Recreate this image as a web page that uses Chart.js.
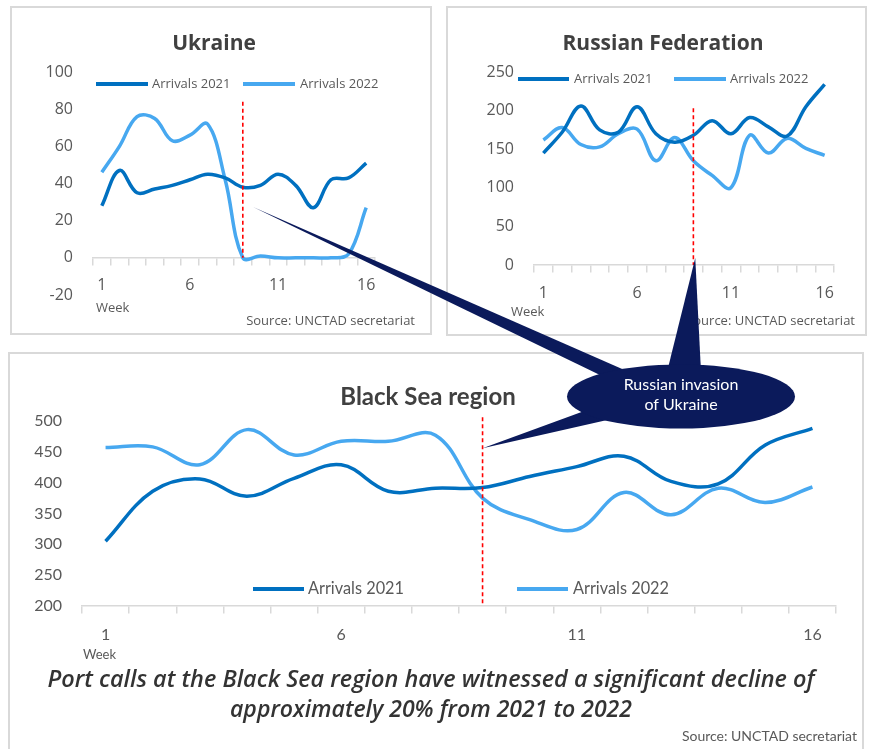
<!DOCTYPE html>
<html><head><meta charset="utf-8">
<script src="https://cdn.jsdelivr.net/npm/chart.js@4.4.0/dist/chart.umd.min.js"></script>
<style>
html,body{margin:0;padding:0;background:#fff;}
#wrap{position:relative;width:870px;height:749px;overflow:hidden;background:#fff;}
.box{position:absolute;box-sizing:border-box;border:2px solid #d9d9d9;}
canvas{position:absolute;}
</style></head><body>
<div id="wrap">
<div class="box" style="left:10px;top:6px;width:422px;height:329px"></div>
<div class="box" style="left:446px;top:6px;width:421px;height:330px"></div>
<div class="box" style="left:8px;top:352px;width:856px;height:420px"></div>
<canvas id="ua" width="422" height="329" style="left:10px;top:6px"></canvas>
<canvas id="rf" width="421" height="330" style="left:446px;top:6px"></canvas>
<canvas id="bs" width="855" height="397" style="left:9px;top:352px"></canvas>
<canvas id="ov" width="870" height="749" style="left:0;top:0;pointer-events:none"></canvas>
</div>
<script>
// ---- data ----
const weeks = ['1','2','3','4','5','6','7','8','9','10','11','12','13','14','15','16'];
const seriesNames = ['Arrivals 2021', 'Arrivals 2022'];
const uaArrivals2021 = [28, 47, 35, 37, 39, 42, 45, 43, 38, 39, 45, 39, 27, 42, 43, 51];
const uaArrivals2022 = [46, 60, 76, 75, 63, 66, 72, 42, 0, 1, 0, 0, 0, 0, 2, 27];
const rfArrivals2021 = [145, 172, 206, 175, 172, 205, 170, 159, 168, 187, 170, 191, 179, 167, 205, 234];
const rfArrivals2022 = [162, 178, 156, 153, 170, 176, 135, 165, 135, 116, 100, 168, 145, 164, 151, 142];
const bsArrivals2021 = [305, 386, 406, 378, 407, 429, 386, 391, 392, 410, 426, 443, 402, 398, 461, 488];
const bsArrivals2022 = [457, 458, 429, 486, 445, 467, 467, 477, 375, 340, 324, 384, 348, 391, 368, 393];
const uaYTicks = [-20, 0, 20, 40, 60, 80, 100];
const rfYTicks = [0, 50, 100, 150, 200, 250];
const bsYTicks = [200, 250, 300, 350, 400, 450, 500];
const invasionWeekIndex = 8; // week 9

const C21 = '#0070c0', C22 = '#47a8f0', GRAY = '#595959';
const FONT = '"Open Sans", "DejaVu Sans", sans-serif';
const FONT2 = 'Lato, "Open Sans", sans-serif';

const deco = {
  id: 'deco',
  afterDraw(chart, args, o) {
    const ctx = chart.ctx, xs = chart.scales.x, ys = chart.scales.y;
    ctx.save();
    const vx = xs.getPixelForValue(o.vIndex);
    ctx.strokeStyle = '#ff0000'; ctx.lineWidth = 1.6; ctx.setLineDash([4, 3]);
    ctx.beginPath(); ctx.moveTo(vx, ys.getPixelForValue(o.vTop)); ctx.lineTo(vx, ys.getPixelForValue(o.vBottom)); ctx.stroke();
    ctx.setLineDash([]);
    ctx.fillStyle = '#404040'; ctx.font = o.titleFont; ctx.textAlign = 'center'; ctx.textBaseline = 'middle';
    ctx.fillText(o.title, o.titleX, o.titleY, o.titleMax);
    chart.data.datasets.forEach((ds, i) => {
      const L = o.legend[i];
      ctx.strokeStyle = ds.borderColor; ctx.lineWidth = 4; ctx.lineCap = 'butt';
      ctx.beginPath(); ctx.moveTo(L[0], o.legendY); ctx.lineTo(L[1], o.legendY); ctx.stroke();
      ctx.fillStyle = GRAY; ctx.font = o.legendFont; ctx.textAlign = 'left'; ctx.textBaseline = 'middle';
      ctx.fillText(ds.label, L[2], o.legendY, o.legendMax);
    });
    ctx.fillStyle = GRAY; ctx.font = o.smallFont; ctx.textAlign = 'left';
    ctx.fillText('Week', o.week[0], o.week[1]);
    ctx.textAlign = 'right'; ctx.font = o.sourceFont || o.smallFont;
    ctx.fillText('Source: UNCTAD secretariat', o.source[0], o.source[1], o.sourceMax);
    if (o.caption) {
      ctx.fillStyle = '#333333'; ctx.font = o.caption.font; ctx.textAlign = 'center';
      o.caption.lines.forEach((t, i) => ctx.fillText(t, o.caption.x, o.caption.y[i], o.caption.max[i]));
    }
    ctx.restore();
  }
};

function makeChart(id, d21, d22, yTicks, geom) {
  const canvas = document.getElementById(id);
  return new Chart(canvas, {
    type: 'line',
    data: {
      labels: weeks,
      datasets: [
        { label: seriesNames[0], data: d21, borderColor: C21, borderWidth: 3.5, pointRadius: 0, tension: 0.38, fill: false },
        { label: seriesNames[1], data: d22, borderColor: C22, borderWidth: 3.5, pointRadius: 0, tension: 0.38, fill: false }
      ]
    },
    options: {
      responsive: false, animation: false, events: [],
      layout: { padding: geom.padding },
      scales: {
        x: {
          type: 'category', position: { y: yTicks[0] === -20 ? 0 : yTicks[0] }, offset: true,
          grid: { offset: true, drawOnChartArea: false, drawTicks: true, tickLength: 7, color: '#d9d9d9', lineWidth: 1.5 },
          border: { display: true, color: '#d9d9d9', width: 1.5 },
          ticks: { autoSkip: false, maxRotation: 0, padding: geom.xPad, color: GRAY, font: { family: geom.font, size: geom.tickSize },
            callback: (v, i) => (i % 5 === 0 ? weeks[i] : '') }
        },
        y: {
          min: yTicks[0], max: yTicks[yTicks.length - 1],
          afterBuildTicks: (s) => { s.ticks = yTicks.map(v => ({ value: v })); },
          afterFit: (s) => { s.width = geom.yWidth; },
          grid: { display: false, drawTicks: false }, border: { display: false },
          ticks: { padding: 20, color: GRAY, font: { family: geom.font, size: geom.tickSize } }
        }
      },
      plugins: { legend: { display: false }, tooltip: { enabled: false }, deco: geom.deco }
    },
    plugins: [deco]
  });
}

const ua = makeChart('ua', uaArrivals2021, uaArrivals2022, uaYTicks, {
  padding: { left: 0, right: 57, top: 66, bottom: 40 }, yWidth: 83, xPad: 11, tickSize: 16, font: FONT,
  deco: { vIndex: invasionWeekIndex, vTop: 84, vBottom: 0, title: 'Ukraine', titleFont: 'bold 21px ' + FONT, titleX: 204, titleY: 38, titleMax: 200,
    legendY: 78, legend: [[86, 138, 142], [233, 285, 290]], legendFont: '13px ' + FONT, legendMax: 200,
    smallFont: '13px ' + FONT, week: [86, 302], source: [405, 315], sourceMax: 400 }
});
const rf = makeChart('rf', rfArrivals2021, rfArrivals2022, rfYTicks, {
  padding: { left: 0, right: 33, top: 66, bottom: 71 }, yWidth: 88, xPad: 12, tickSize: 16, font: FONT,
  deco: { vIndex: invasionWeekIndex, vTop: 203, vBottom: 0, title: 'Russian Federation', titleFont: 'bold 21px ' + FONT, titleX: 217, titleY: 38, titleMax: 260,
    legendY: 73, legend: [[72, 123, 128], [228, 280, 284]], legendFont: '13px ' + FONT, legendMax: 200,
    smallFont: '13px ' + FONT, week: [65, 306], source: [409, 315], sourceMax: 400 }
});
const bs = makeChart('bs', bsArrivals2021, bsArrivals2022, bsYTicks, {
  padding: { left: 0, right: 28, top: 69, bottom: 143 }, yWidth: 73, xPad: 12, tickSize: 16, font: FONT2,
  deco: { vIndex: invasionWeekIndex, vTop: 506, vBottom: 200, title: 'Black Sea region', titleFont: 'bold 24px ' + FONT2, titleX: 419, titleY: 45, titleMax: 180,
    legendY: 237, legend: [[244, 295, 299], [508, 559, 564]], legendFont: '17px ' + FONT2, legendMax: 96,
    smallFont: '13px ' + FONT2, sourceFont: '14px ' + FONT2, week: [74, 303], source: [848, 384], sourceMax: 186,
    caption: { font: 'italic 600 24px ' + FONT, x: 422, y: [328, 358], max: [767, 402],
      lines: ['Port calls at the Black Sea region have witnessed a significant decline of', 'approximately 20% from 2021 to 2022'] } }
});

// ---- callout annotation ----
(function drawCallout() {
  const ctx = document.getElementById('ov').getContext('2d');
  const tip = (chart, xv, yv) => [chart.canvas.offsetLeft + chart.scales.x.getPixelForValue(xv), chart.canvas.offsetTop + chart.scales.y.getPixelForValue(yv)];
  const cx = 681, cy = 396.5, rx = 114, ry = 32;
  const NAVY = '#0b1a5b';
  ctx.fillStyle = NAVY;
  const tails = [
    [tip(ua, 8.58, 27.4), [602, 376], [629, 372]],
    [tip(rf, 8.1, 9), [667, 372], [701, 372]],
    [tip(bs, 8, 456), [587, 410], [616, 418]]
  ];
  tails.forEach(t => { ctx.beginPath(); ctx.moveTo(t[0][0], t[0][1]); ctx.lineTo(t[1][0], t[1][1]); ctx.lineTo(t[2][0], t[2][1]); ctx.closePath(); ctx.fill(); });
  ctx.beginPath(); ctx.ellipse(cx, cy, rx, ry, 0, 0, Math.PI * 2); ctx.fill();
  ctx.fillStyle = '#ffffff'; ctx.font = '16px ' + FONT2; ctx.textAlign = 'center'; ctx.textBaseline = 'middle';
  ctx.fillText('Russian invasion', cx, 385);
  ctx.fillText('of Ukraine', cx, 405);
})();
</script>
</body></html>
